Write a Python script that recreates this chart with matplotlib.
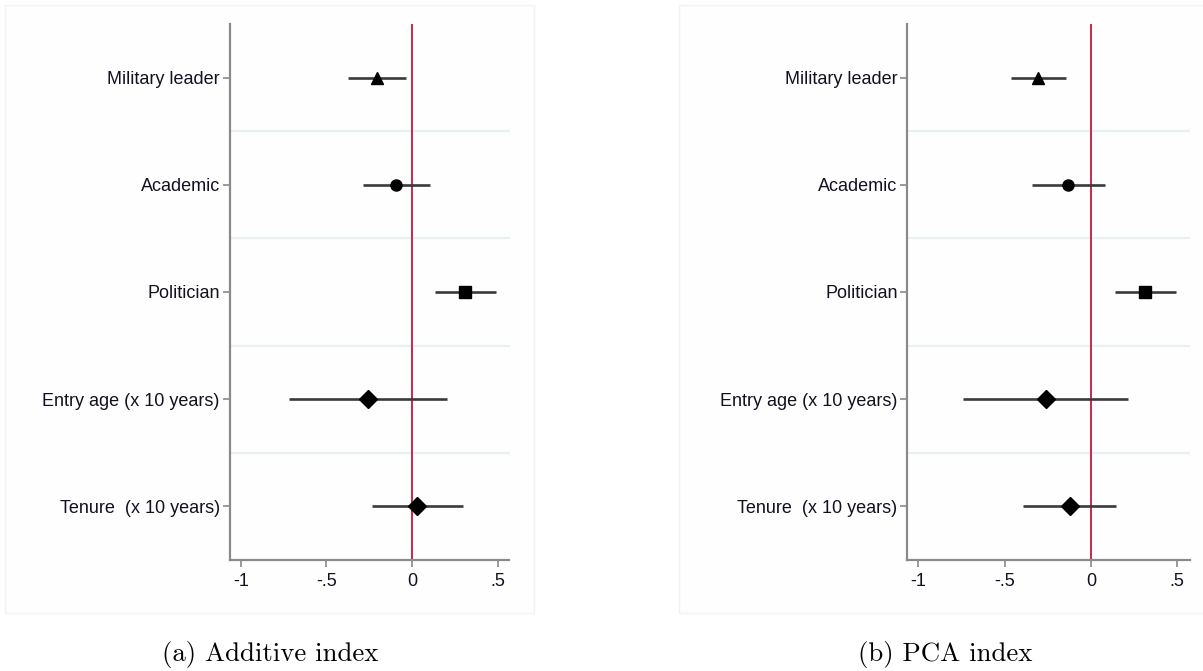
import matplotlib.pyplot as plt
from matplotlib.patches import Rectangle

labels = ["Military leader", "Academic", "Politician",
          "Entry age (x 10 years)", "Tenure  (x 10 years)"]
markers = ["^", "o", "s", "D", "D"]
tick_vals = [-1, -0.5, 0, 0.5]
tick_labels = ["-1", "-.5", "0", ".5"]

# additive index: point estimate, lower, upper
add_est = [-0.206, -0.094, 0.312, -0.257, 0.029]
add_lo = [-0.376, -0.287, 0.136, -0.717, -0.236]
add_hi = [-0.035, 0.103, 0.489, 0.203, 0.296]

# PCA index
pca_est = [-0.305, -0.131, 0.313, -0.262, -0.122]
pca_lo = [-0.462, -0.340, 0.137, -0.743, -0.396]
pca_hi = [-0.145, 0.081, 0.491, 0.214, 0.147]

captions = ["(a) Additive index", "(b) PCA index"]
caption_x = [270, 945]

W, H = 1203, 671
fig = plt.figure(figsize=(W / 100, H / 100), dpi=100)


def px(x0, y0, x1, y1):
    # pixel box -> figure fraction [left, bottom, width, height]
    return [x0 / W, 1 - y1 / H, (x1 - x0) / W, (y1 - y0) / H]


# light panel frames
for (x0, x1) in [(5, 534), (679, 1210)]:
    b = px(x0, 5, x1, 613)
    fig.patches.append(Rectangle((b[0], b[1]), b[2], b[3], transform=fig.transFigure,
                                 facecolor="#fefefe", edgecolor="#f0f3f3", lw=1.0, zorder=-5))

txtcol = "#111122"
axes_boxes = [px(229.5, 24, 509.5, 560), px(907.3, 24, 1189.7, 560)]
xlims = [(-1.067, 0.57), (-1.064, 0.572)]
data = [(add_est, add_lo, add_hi), (pca_est, pca_lo, pca_hi)]

for box, xl, (est, lo, hi), cap, cxp in zip(axes_boxes, xlims, data, captions, caption_x):
    ax = fig.add_axes(box)
    ax.set_zorder(2)
    ax.set_facecolor("none")
    ys = list(range(1, len(labels) + 1))
    # separators between rows
    for yy in [1.5, 2.5, 3.5, 4.5]:
        ax.axhline(yy, color="#e8f0f1", lw=1.6, zorder=1)
    ax.axvline(0, color="#c8163a", lw=1.3, zorder=2)
    for i, y in enumerate(ys):
        ax.plot([lo[i], hi[i]], [y, y], color="#3a3a3a", lw=1.9, zorder=3,
                solid_capstyle="butt")
        ms = 9 if markers[i] in ("^", "D") else 8
        ax.plot(est[i], y, marker=markers[i], color="black", ms=ms, zorder=4, ls="none")
    ax.set_xlim(*xl)
    ax.set_ylim(5.5, 0.5)
    ax.set_yticks(ys)
    ax.set_yticklabels(labels)
    ax.set_xticks(tick_vals)
    ax.set_xticklabels(tick_labels)
    for s in ["top", "right"]:
        ax.spines[s].set_visible(False)
    for s in ["left", "bottom"]:
        ax.spines[s].set_color("#8a8a8a")
        ax.spines[s].set_linewidth(1.6)
    ax.tick_params(axis="both", colors="#8a8a8a", length=5, width=1.2,
                   labelcolor=txtcol, labelsize=13)
    ax.tick_params(axis="y", pad=2)
    ax.tick_params(axis="x", pad=4)
    for t in ax.get_xticklabels() + ax.get_yticklabels():
        t.set_family(["Liberation Sans", "DejaVu Sans"])
    fig.text(cxp / W, 1 - 655 / H, cap,
             ha="center", va="center", fontsize=19.3, family=["cmr10", "DejaVu Serif"])

fig.savefig("out.png", dpi=100)
